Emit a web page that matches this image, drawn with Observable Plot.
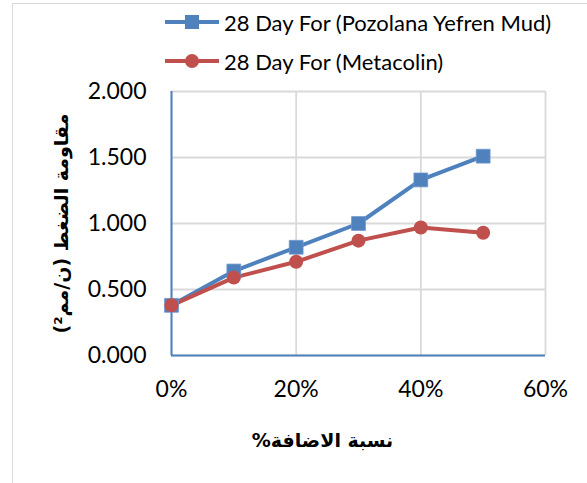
<!DOCTYPE html>
<html>
<head>
<meta charset="utf-8">
<script src="https://cdn.jsdelivr.net/npm/d3@7"></script>
<script src="https://cdn.jsdelivr.net/npm/@observablehq/plot@0.6"></script>
<style>
  html, body { margin: 0; padding: 0; background: #fff; }
  #wrap { position: relative; width: 587px; height: 483px; overflow: hidden; }
  #border { position: absolute; left: 12px; top: 3px; width: 700px; height: 600px; border: 1.5px solid #D9D9D9; box-sizing: border-box; }
  #chart { position: absolute; left: 0; top: 0; }
  #legend { position: absolute; left: 165px; top: 0; font-family: Lato, sans-serif; font-size: 22px; color: #000; }
  .item { position: absolute; left: 0; display: flex; align-items: center; white-space: nowrap; }
  .item svg { display: block; margin-right: 5px; }
</style>
</head>
<body>
<div id="wrap">
  <div id="border"></div>
  <div id="chart"></div>
  <div id="legend"></div>
</div>
<script>
const additions = [0, 0.1, 0.2, 0.3, 0.4, 0.5];
const pozolana = [0.38, 0.64, 0.82, 1.00, 1.33, 1.51];
const metacolin = [0.38, 0.59, 0.71, 0.87, 0.97, 0.93];
const seriesNames = ["28 Day For (Pozolana Yefren Mud)", "28 Day For (Metacolin)"];
const seriesColors = ["#4F81BD", "#C0504D"];
const xTicks = [0, 0.2, 0.4, 0.6];
const yTicks = [0, 0.5, 1.0, 1.5, 2.0];
const xTitle = "نسبة الاضافة%";
const yTitle = "مقاومة الضغط (ن/مم²)";

const rows = [];
additions.forEach((a, i) => rows.push({x: a, y: pozolana[i], s: seriesNames[0]}));
additions.forEach((a, i) => rows.push({x: a, y: metacolin[i], s: seriesNames[1]}));
const s0 = rows.filter(d => d.s === seriesNames[0]);
const s1 = rows.filter(d => d.s === seriesNames[1]);

const plot = Plot.plot({
  width: 587,
  height: 483,
  marginLeft: 171,
  marginRight: 42,
  marginTop: 91,
  marginBottom: 128,
  style: {fontFamily: "Lato, sans-serif", fontSize: "23px", color: "#000", background: "transparent"},
  x: {domain: [0, 0.6]},
  y: {domain: [0, 2]},
  marks: [
    Plot.gridX(xTicks, {stroke: "#D9D9D9", strokeOpacity: 1, strokeWidth: 1.8}),
    Plot.gridY(yTicks, {stroke: "#D9D9D9", strokeOpacity: 1, strokeWidth: 1.8}),
    Plot.ruleX([0], {stroke: "#4F81BD", strokeWidth: 2}),
    Plot.ruleY([0], {stroke: "#4F81BD", strokeWidth: 2}),
    Plot.axisX({ticks: xTicks, tickFormat: d3.format(".0%"), tickSize: 0, tickPadding: 25, label: null, fontSize: 23}),
    Plot.axisY({ticks: yTicks, tickFormat: d3.format(".3f"), tickSize: 0, tickPadding: 25, label: null, fontSize: 23}),
    Plot.line(s0, {x: "x", y: "y", stroke: seriesColors[0], strokeWidth: 4}),
    Plot.line(s1, {x: "x", y: "y", stroke: seriesColors[1], strokeWidth: 4}),
    Plot.dot(s0, {x: "x", y: "y", symbol: "square", r: 7.8, fill: seriesColors[0], stroke: "#6d97cc", strokeWidth: 0.8}),
    Plot.dot(s1, {x: "x", y: "y", symbol: "circle", r: 7, fill: seriesColors[1]}),
    Plot.text([xTitle], {frameAnchor: "bottom", dy: 91, dx: -36, fontFamily: "DejaVu Sans", fontWeight: "bold", fontSize: 19, fill: "#000"}),
    Plot.text([yTitle], {frameAnchor: "left", textAnchor: "middle", dx: -110, rotate: -90, fontFamily: "DejaVu Sans", fontWeight: "bold", fontSize: 19, fill: "#000"})
  ]
});
plot.querySelectorAll("text").forEach(t => {
  if (/[\u0600-\u06FF]/.test(t.textContent)) {
    t.setAttribute("direction", "rtl");
    t.style.direction = "rtl";
    t.setAttribute("unicode-bidi", "embed");
  }
});
document.getElementById("chart").appendChild(plot);

// legend
const legend = document.getElementById("legend");
const legendTops = [22, 61];
seriesNames.forEach((name, i) => {
  const item = document.createElement("div");
  item.className = "item";
  item.style.top = (legendTops[i] - 14) + "px";
  item.style.height = "28px";
  const ns = "http://www.w3.org/2000/svg";
  const svg = document.createElementNS(ns, "svg");
  svg.setAttribute("width", 54); svg.setAttribute("height", 20);
  const ln = document.createElementNS(ns, "line");
  ln.setAttribute("x1", 0); ln.setAttribute("x2", 54); ln.setAttribute("y1", 10); ln.setAttribute("y2", 10);
  ln.setAttribute("stroke", seriesColors[i]); ln.setAttribute("stroke-width", 4);
  svg.appendChild(ln);
  let m;
  if (i === 0) {
    m = document.createElementNS(ns, "rect");
    m.setAttribute("x", 20); m.setAttribute("y", 3); m.setAttribute("width", 14); m.setAttribute("height", 14);
  } else {
    m = document.createElementNS(ns, "circle");
    m.setAttribute("cx", 27); m.setAttribute("cy", 10); m.setAttribute("r", 7);
  }
  m.setAttribute("fill", seriesColors[i]);
  svg.appendChild(m);
  item.appendChild(svg);
  const span = document.createElement("span");
  span.textContent = name;
  item.appendChild(span);
  legend.appendChild(item);
});
</script>
</body>
</html>
